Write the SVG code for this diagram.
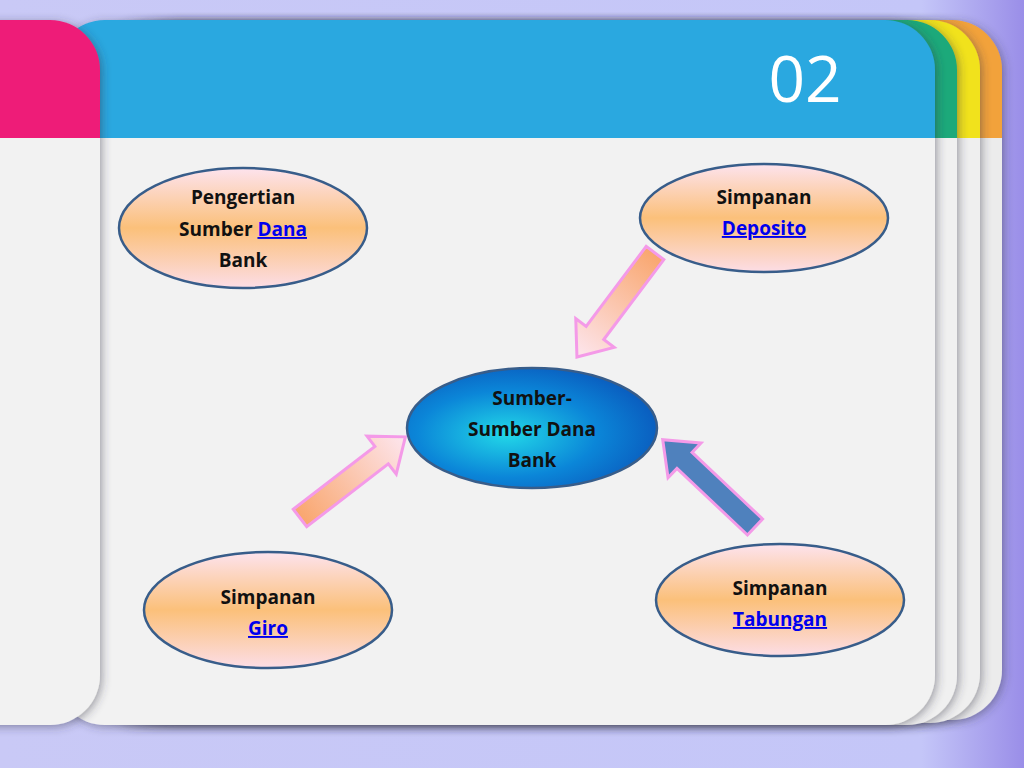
<svg xmlns="http://www.w3.org/2000/svg" width="1024" height="768" viewBox="0 0 1024 768">
<defs>
<linearGradient id="bg" x1="0" y1="0" x2="1" y2="0"><stop offset="0" stop-color="#c9c9f6"/><stop offset="0.9" stop-color="#c4c6f8"/><stop offset="1" stop-color="#9a8ee8"/></linearGradient>
<linearGradient id="ov" x1="0" y1="0" x2="0" y2="1"><stop offset="0" stop-color="#fde3ee"/><stop offset="0.5" stop-color="#fbc07a"/><stop offset="1" stop-color="#fcdde6"/></linearGradient>
<radialGradient id="cv" cx="0.4" cy="0.55" r="0.6"><stop offset="0" stop-color="#22d8e8"/><stop offset="0.6" stop-color="#0b86d8"/><stop offset="1" stop-color="#0a5fc0"/></radialGradient>
<linearGradient id="ar" x1="0" y1="0" x2="1" y2="0"><stop offset="0" stop-color="#f9a66e"/><stop offset="1" stop-color="#fde6ee"/></linearGradient>
<filter id="sh" x="-10%" y="-10%" width="120%" height="120%"><feDropShadow dx="2" dy="2" stdDeviation="5" flood-color="#334" flood-opacity="0.45"/></filter>
</defs>
<style>
.o{stroke:#385d8a;stroke-width:2.5}
.t{font-family:"Open Sans","Liberation Sans",Arial,sans-serif;font-weight:bold;font-size:19px;fill:#111;text-anchor:middle}
.l{fill:#0000ee;text-decoration:underline}
.a{stroke:#f49ae8;stroke-width:3}
</style>
<rect width="1024" height="768" fill="url(#bg)"/>
<g filter="url(#sh)">
<path d="M180 20 H952 A50 50 0 0 1 1002 70 V138 H130 V70 A50 50 0 0 1 180 20 Z" fill="#f2a23a"/>
<path d="M130 138 H1002 V670 A50 50 0 0 1 952 720 H180 A50 50 0 0 1 130 670 Z" fill="#ececec"/>
</g>
<g filter="url(#sh)">
<path d="M160 20 H930 A50 50 0 0 1 980 70 V138 H110 V70 A50 50 0 0 1 160 20 Z" fill="#f1e21c"/>
<path d="M110 138 H980 V673 A50 50 0 0 1 930 723 H160 A50 50 0 0 1 110 673 Z" fill="#efefef"/>
</g>
<g filter="url(#sh)">
<path d="M140 20 H907 A50 50 0 0 1 957 70 V138 H90 V70 A50 50 0 0 1 140 20 Z" fill="#1fa97a"/>
<path d="M90 138 H957 V675 A50 50 0 0 1 907 725 H140 A50 50 0 0 1 90 675 Z" fill="#f0f0f0"/>
</g>
<g filter="url(#sh)">
<path d="M105 20 H885 A50 50 0 0 1 935 70 V138 H55 V70 A50 50 0 0 1 105 20 Z" fill="#29a8e0"/>
<path d="M55 138 H935 V675 A50 50 0 0 1 885 725 H105 A50 50 0 0 1 55 675 Z" fill="#f2f2f2"/>
</g>
<g filter="url(#sh)">
<path d="M-50 20 H50 A50 50 0 0 1 100 70 V138 H-50 Z" fill="#ee1c78"/>
<path d="M-50 138 H100 V675 A50 50 0 0 1 50 725 H-50 Z" fill="#f2f2f2"/>
</g>
<text x="805" y="102" font-family="'Open Sans','Liberation Sans',sans-serif" font-size="64" fill="#fff" text-anchor="middle">02</text>
<g id="connectors">
<polygon class="a" transform="translate(655,253) rotate(126.9)" points="0,-11 100,-11 100,-24 130,0 100,24 100,11 0,11" fill="url(#ar)"/>
<polygon class="a" transform="translate(300,518) rotate(-37.6)" points="0,-11 103,-11 103,-24 133,0 103,24 103,11 0,11" fill="url(#ar)"/>
<polygon class="a" transform="translate(755,527) rotate(-136.6)" points="0,-11 97,-11 97,-24 127,0 97,24 97,11 0,11" fill="#4f81bd"/>
</g>
<g id="pengertian"><ellipse class="o" cx="243" cy="228" rx="124" ry="60" fill="url(#ov)"/>
<text class="t" x="243" y="204">Pengertian</text><text class="t" x="243" y="236">Sumber <tspan class="l">Dana</tspan></text><text class="t" x="243" y="267">Bank</text></g>
<g id="deposito"><ellipse class="o" cx="764" cy="218" rx="124" ry="54" fill="url(#ov)"/>
<text class="t" x="764" y="204">Simpanan</text><text class="t l" x="764" y="235">Deposito</text></g>
<g id="center"><ellipse class="o" cx="532" cy="428" rx="125" ry="60" fill="url(#cv)"/>
<text class="t" x="532" y="405">Sumber-</text><text class="t" x="532" y="436">Sumber Dana</text><text class="t" x="532" y="467">Bank</text></g>
<g id="giro"><ellipse class="o" cx="268" cy="610" rx="124" ry="58" fill="url(#ov)"/>
<text class="t" x="268" y="604">Simpanan</text><text class="t l" x="268" y="635">Giro</text></g>
<g id="tabungan"><ellipse class="o" cx="780" cy="600" rx="124" ry="56" fill="url(#ov)"/>
<text class="t" x="780" y="595">Simpanan</text><text class="t l" x="780" y="626">Tabungan</text></g>
</svg>
